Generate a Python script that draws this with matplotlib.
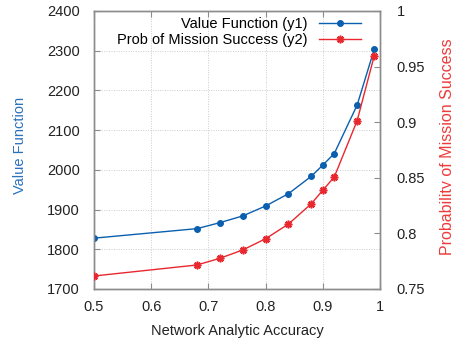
import matplotlib
matplotlib.use("Agg")
import matplotlib.pyplot as plt

plt.rcParams['font.family'] = ['Liberation Sans', 'DejaVu Sans']

accuracy = [0.5, 0.68, 0.72, 0.76, 0.8, 0.84, 0.88, 0.9, 0.92, 0.96, 0.99]
value_function = [1828, 1852, 1867, 1884, 1909, 1940, 1984, 2012, 2041, 2163, 2304]
prob_success = [0.7617, 0.7716, 0.7776, 0.7851, 0.7952, 0.8084, 0.8267, 0.8388, 0.8507, 0.9013, 0.9598]

x_ticks = [0.5, 0.6, 0.7, 0.8, 0.9, 1.0]
x_ticklabels = ["0.5", "0.6", "0.7", "0.8", "0.9", "1"]
y1_ticks = [1700, 1800, 1900, 2000, 2100, 2200, 2300, 2400]
y2_ticks = [0.75, 0.8, 0.85, 0.9, 0.95, 1.0]
y2_ticklabels = ["0.75", "0.8", "0.85", "0.9", "0.95", "1"]

blue = '#0a5fae'
red = '#e8282e'
blue_label = '#2a72bd'
red_label = '#ee3b3b'
frame = '#8c8c8c'
fs = 10.5

fig = plt.figure(figsize=(4.52, 3.41), dpi=100)
ax = fig.add_axes([94/452, 1-289/341, (380-94)/452, (289-11)/341])
ax2 = ax.twinx()

l1, = ax.plot(accuracy, value_function, color=blue, lw=1.0, marker='o', ms=4.0,
              label='Value Function (y1)', zorder=3)
l2, = ax2.plot(accuracy, prob_success, color=red, lw=1.0, marker=(8, 2, 0), ms=5.5,
               mew=1.2, label='Prob of Mission Success (y2)', zorder=3)

ax.set_xlim(0.5, 1.0)
ax.set_ylim(1700, 2400)
ax2.set_ylim(0.75, 1.0)
ax.set_xticks(x_ticks)
ax.set_xticklabels(x_ticklabels)
ax.set_yticks(y1_ticks)
ax2.set_yticks(y2_ticks)
ax2.set_yticklabels(y2_ticklabels)

ax.grid(True, color='#cccccc', linestyle=(0, (1, 1.5)), linewidth=0.7)
ax.set_axisbelow(True)

for a in (ax, ax2):
    for s in a.spines.values():
        s.set_color(frame)
        s.set_linewidth(1.0)

ax.tick_params(axis='x', direction='in', top=True, length=4, color=frame,
               labelsize=fs, pad=8, labelcolor='#222222')
ax.tick_params(axis='y', direction='in', right=False, length=4, color=frame,
               labelsize=fs, pad=10, labelcolor='#222222')
ax2.tick_params(axis='y', direction='in', length=4, color=frame,
                labelsize=fs, pad=12, labelcolor='#222222')

ax.set_xlabel('Network Analytic Accuracy', fontsize=fs, color='#222222', labelpad=7)
fig.text(20/452, 1-145/341, 'Value Function', rotation=90, ha='center', va='center',
         fontsize=fs, color=blue_label)
fig.text(448/452, 1-147/341, 'Probability of Mission Success', rotation=90,
         ha='center', va='center', fontsize=11.5, color=red_label)

leg = ax2.legend(handles=[l1, l2], loc='upper right', bbox_to_anchor=(0.94, 0.985),
                 frameon=False, markerfirst=False, fontsize=fs, handlelength=2.9,
                 handletextpad=0.8, labelspacing=0.15, borderaxespad=0, borderpad=0.1)

fig.savefig('out.png', dpi=100)
